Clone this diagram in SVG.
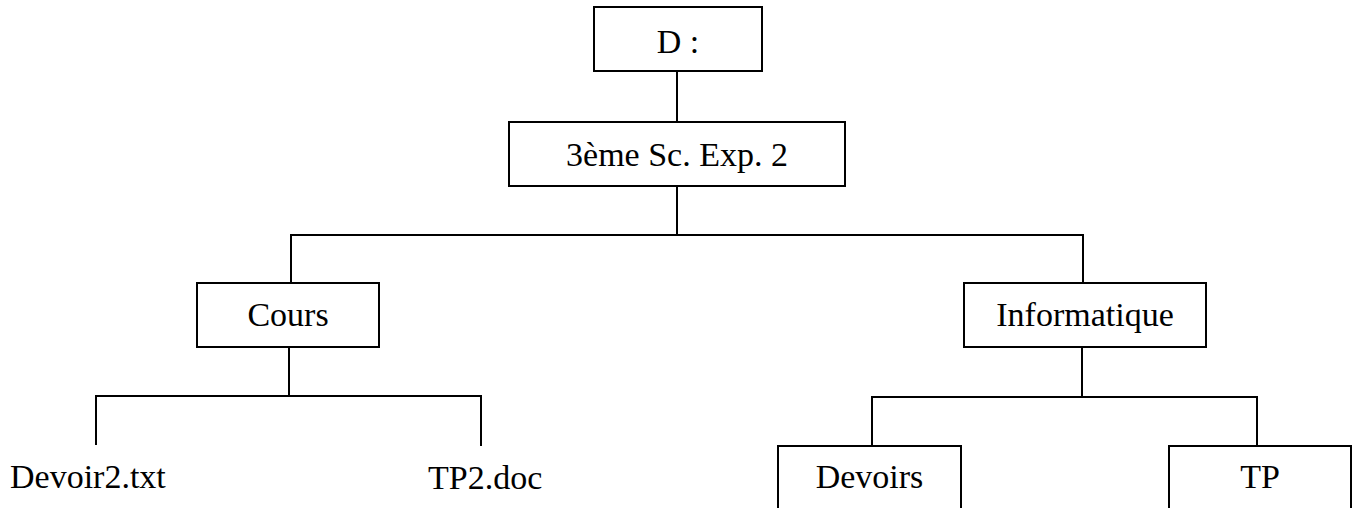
<svg xmlns="http://www.w3.org/2000/svg" width="1358" height="508" viewBox="0 0 1358 508">
<style>
.box{fill:#fff;stroke:#000;stroke-width:2}
.lbl{font-family:"Liberation Serif","Times New Roman",serif;font-size:34px;fill:#000}
.c{text-anchor:middle}
.conn line{stroke:#000;stroke-width:2}
</style>
<rect width="1358" height="508" fill="#fff"/>
<g id="connectors" class="conn">
<line x1="677" y1="71" x2="677" y2="122"/>
<line x1="677" y1="186" x2="677" y2="235"/>
<line x1="290" y1="235" x2="1084" y2="235"/>
<line x1="291" y1="235" x2="291" y2="283"/>
<line x1="1083" y1="235" x2="1083" y2="283"/>
<line x1="289" y1="347" x2="289" y2="396"/>
<line x1="95" y1="396" x2="482" y2="396"/>
<line x1="96" y1="396" x2="96" y2="445"/>
<line x1="481" y1="396" x2="481" y2="446"/>
<line x1="1082" y1="347" x2="1082" y2="397"/>
<line x1="871" y1="397" x2="1258" y2="397"/>
<line x1="872" y1="397" x2="872" y2="446"/>
<line x1="1257" y1="397" x2="1257" y2="446"/>
</g>
<g id="node-d">
<rect class="box" x="594" y="7" width="168" height="64"/>
<text class="lbl c" x="678" y="53">D :</text>
</g>
<g id="node-3eme">
<rect class="box" x="509" y="122" width="336" height="64"/>
<text class="lbl c" x="677" y="166">3ème Sc. Exp. 2</text>
</g>
<g id="node-cours">
<rect class="box" x="197" y="283" width="182" height="64"/>
<text class="lbl c" x="288" y="326">Cours</text>
</g>
<g id="node-informatique">
<rect class="box" x="964" y="283" width="242" height="64"/>
<text class="lbl c" x="1085" y="326">Informatique</text>
</g>
<g id="node-devoir2">
<text class="lbl" x="10" y="488">Devoir2.txt</text>
</g>
<g id="node-tp2">
<text class="lbl" x="428" y="489">TP2.doc</text>
</g>
<g id="node-devoirs">
<rect class="box" x="778" y="446" width="183" height="80"/>
<text class="lbl c" x="869.5" y="488">Devoirs</text>
</g>
<g id="node-tp">
<rect class="box" x="1169" y="446" width="182" height="80"/>
<text class="lbl c" x="1260" y="488">TP</text>
</g>
</svg>
